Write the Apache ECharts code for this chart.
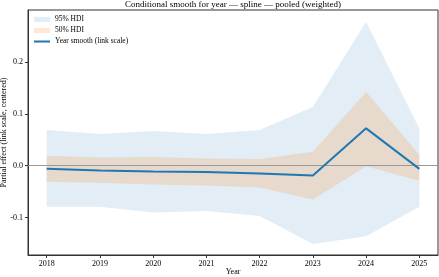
<!DOCTYPE html>
<html>
<head>
<meta charset="utf-8">
<script src="https://cdn.jsdelivr.net/npm/echarts@6/dist/echarts.min.js"></script>
<style>html,body{margin:0;padding:0;background:#fff}#c{width:439px;height:277px}</style>
</head>
<body>
<div id="c"></div>
<script>
const years = [2018, 2019, 2020, 2021, 2022, 2023, 2024, 2025];
const hdi95Lower = [-0.079, -0.079, -0.090, -0.087, -0.097, -0.151, -0.136, -0.079];
const hdi95Upper = [0.069, 0.061, 0.067, 0.061, 0.069, 0.113, 0.277, 0.071];
const hdi50Lower = [-0.031, -0.033, -0.036, -0.038, -0.042, -0.065, -0.001, -0.029];
const hdi50Upper = [0.019, 0.016, 0.017, 0.014, 0.013, 0.027, 0.142, 0.021];
const smooth = [-0.006, -0.009, -0.011, -0.012, -0.015, -0.019, 0.072, -0.006];
const yTicks = [-0.1, 0.0, 0.1, 0.2];

const FONT = '"Liberation Serif", "DejaVu Serif", serif';
const blueBand = 'rgba(31,119,180,0.13)';
const orangeBand = 'rgba(255,127,14,0.18)';
const lineColor = '#1f77b4';

function bandRenderer(lower, upper, color) {
  return function (params, api) {
    if (params.dataIndex !== 0) return null;
    const pts = [];
    for (let i = 0; i < years.length; i++) pts.push(api.coord([years[i], upper[i]]));
    for (let i = years.length - 1; i >= 0; i--) pts.push(api.coord([years[i], lower[i]]));
    return { type: 'polygon', shape: { points: pts }, style: { fill: color } };
  };
}

const chart = echarts.init(document.getElementById('c'), null, { renderer: 'canvas' });
chart.setOption({
  animation: false,
  backgroundColor: '#fff',
  textStyle: { fontFamily: FONT },
  title: {
    text: 'Conditional smooth for year — spline — pooled (weighted)',
    left: 233, textAlign: 'center', top: 0, padding: 0,
    textStyle: { fontFamily: FONT, fontSize: 9, fontWeight: 'normal', color: '#000' }
  },
  legend: {
    left: 33, top: 15, orient: 'vertical', padding: 0,
    itemWidth: 16, itemHeight: 5, itemGap: 2,
    textStyle: { fontFamily: FONT, fontSize: 7.5, color: '#000', lineHeight: 9 },
    data: [
      { name: '95% HDI', icon: 'rect', itemStyle: { color: blueBand } },
      { name: '50% HDI', icon: 'rect', itemStyle: { color: orangeBand } },
      { name: 'Year smooth (link scale)', itemStyle: { opacity: 0 }, lineStyle: { color: lineColor, width: 2 } }
    ]
  },
  grid: {
    left: 28, right: 1, top: 10, bottom: 22,
    containLabel: false, outerBoundsMode: 'none',
    show: true, borderColor: '#333', borderWidth: 1, backgroundColor: 'transparent'
  },
  xAxis: {
    type: 'value', min: 2017.65, max: 2025.35,
    name: 'Year', nameLocation: 'middle', nameGap: 13, nameMoveOverlap: false,
    nameTextStyle: { fontFamily: FONT, fontSize: 8, color: '#000' },
    axisLine: { show: true, onZero: false, lineStyle: { color: '#333', width: 1 } },
    axisTick: { show: true, inside: false, length: 3, customValues: years, lineStyle: { color: '#333' } },
    axisLabel: { customValues: years, margin: 5, fontFamily: FONT, fontSize: 8, color: '#000', formatter: v => String(v) },
    splitLine: { show: false }
  },
  yAxis: {
    type: 'value', min: -0.172, max: 0.30,
    name: 'Partial effect (link scale, centered)', nameLocation: 'middle', nameGap: 20, nameMoveOverlap: false,
    nameTextStyle: { fontFamily: FONT, fontSize: 8, color: '#000' },
    axisLine: { show: true, onZero: false, lineStyle: { color: '#333', width: 1 } },
    axisTick: { show: true, inside: false, length: 3, customValues: yTicks, lineStyle: { color: '#333' } },
    axisLabel: { customValues: yTicks, margin: 5, fontFamily: FONT, fontSize: 8, color: '#000', formatter: v => v.toFixed(1) },
    splitLine: { show: false }
  },
  series: [
    {
      name: '95% HDI', type: 'custom', z: 1,
      itemStyle: { color: blueBand },
      data: years.map((y, i) => [y, hdi95Lower[i], hdi95Upper[i]]),
      encode: { x: 0, y: [1, 2] },
      renderItem: bandRenderer(hdi95Lower, hdi95Upper, blueBand),
      silent: true
    },
    {
      name: '50% HDI', type: 'custom', z: 2,
      itemStyle: { color: orangeBand },
      data: years.map((y, i) => [y, hdi50Lower[i], hdi50Upper[i]]),
      encode: { x: 0, y: [1, 2] },
      renderItem: bandRenderer(hdi50Lower, hdi50Upper, orangeBand),
      silent: true
    },
    {
      name: 'Year smooth (link scale)', type: 'line', z: 4,
      symbol: 'none',
      lineStyle: { color: lineColor, width: 2 },
      itemStyle: { color: lineColor },
      data: years.map((y, i) => [y, smooth[i]]),
      markLine: {
        silent: true, symbol: 'none', z: 3,
        label: { show: false },
        lineStyle: { color: '#999', width: 1, type: 'solid' },
        data: [{ yAxis: 0 }]
      }
    }
  ]
});
</script>
</body>
</html>
